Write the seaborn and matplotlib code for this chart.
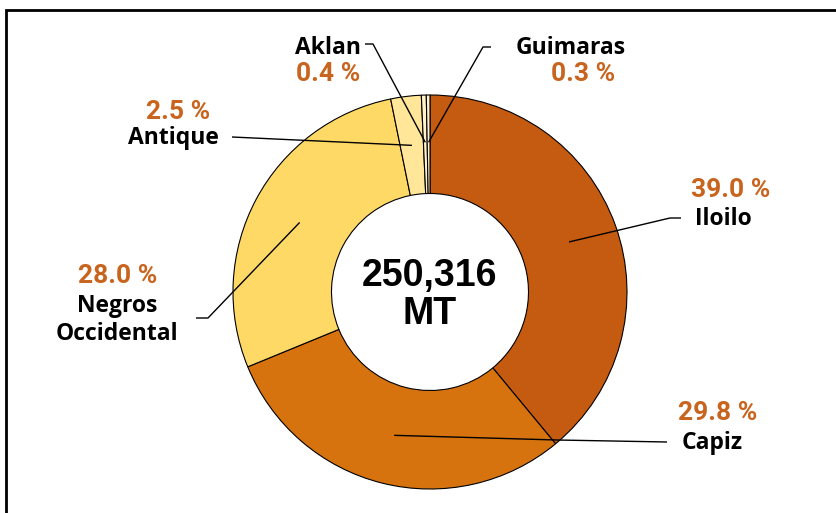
import numpy as np
import matplotlib
matplotlib.use("Agg")
import matplotlib.pyplot as plt
import seaborn as sns

# data
provinces = ["Iloilo", "Capiz", "Negros\nOccidental", "Antique", "Aklan", "Guimaras"]
shares = [39.0, 29.8, 28.0, 2.5, 0.4, 0.3]
total_label = "250,316\nMT"
colors = ["#C55A11", "#D6730F", "#FFD966", "#FFE699", "#FFF2CC", "#FFF2CC"]

sns.set_theme(style="white")
plt.rcParams["font.family"] = ["Liberation Sans", "DejaVu Sans"]

W, H = 837, 513
fig = plt.figure(figsize=(W / 100, H / 100), dpi=100)
ax = fig.add_axes([0, 0, 1, 1])

cx, cy, R = 430, H - 292, 197
ring = 0.5

wedges, _ = ax.pie(shares, colors=colors, startangle=90, counterclock=False,
                   center=(cx, cy), radius=R, frame=True,
                   wedgeprops=dict(width=R * ring, edgecolor="black", linewidth=0.8))
ax.set_xlim(0, W)
ax.set_ylim(0, H)
ax.set_aspect("equal")
ax.axis("off")

ax.text(cx, cy - 3, total_label, ha="center", va="center", fontsize=27,
        fontweight="bold", color="black", linespacing=1.1)

pct_color = "#C8641E"
pct_font = ["Roboto", "Liberation Sans", "DejaVu Sans"]
name_font = ["Open Sans", "Liberation Sans", "DejaVu Sans"]

# label layout in image pixels: (pct position, name position, leader path points)
layout = {
    "Iloilo": dict(pct=(731, 190), name=(723, 219), path=[(670, 218), (681, 218)]),
    "Capiz": dict(pct=(718, 413), name=(712, 443), path=[(557, 440), (667, 442)]),
    "Negros\nOccidental": dict(pct=(118, 276), name=(117, 320), path=[(208, 318), (196, 318)]),
    "Antique": dict(pct=(178, 112), name=(173, 138), path=[(232, 137)]),
    "Aklan": dict(pct=(328, 74), name=(328, 48), path=[(373, 44), (365, 44)]),
    "Guimaras": dict(pct=(583, 74), name=(571, 48), path=[(483, 47), (491, 47)]),
}

for w, name, val in zip(wedges, provinces, shares):
    mid = np.deg2rad((w.theta1 + w.theta2) / 2)
    r_anchor = R * (1 - ring / 2)
    if val < 1:
        r_anchor = R * 0.76
    ax0 = cx + r_anchor * np.cos(mid)
    ay0 = cy + r_anchor * np.sin(mid)
    lay = layout[name]
    xs = [ax0] + [p[0] for p in lay["path"]]
    ys = [ay0] + [H - p[1] for p in lay["path"]]
    ax.plot(xs, ys, color="black", lw=1.0, solid_capstyle="butt")
    px, py = lay["pct"]
    ax.text(px, H - py, f"{val:.1f} %", ha="center", va="center", fontsize=19,
            fontweight="bold", color=pct_color, family=pct_font)
    nx, ny = lay["name"]
    ax.text(nx, H - ny, name, ha="center", va="center", fontsize=16.5,
            fontweight="bold", color="black", linespacing=1.2, family=name_font)

# outer frame
ax.plot([6, 6, W], [0, H - 10, H - 10], color="black", lw=2, solid_joinstyle="miter")

fig.savefig("out.png", dpi=100)
